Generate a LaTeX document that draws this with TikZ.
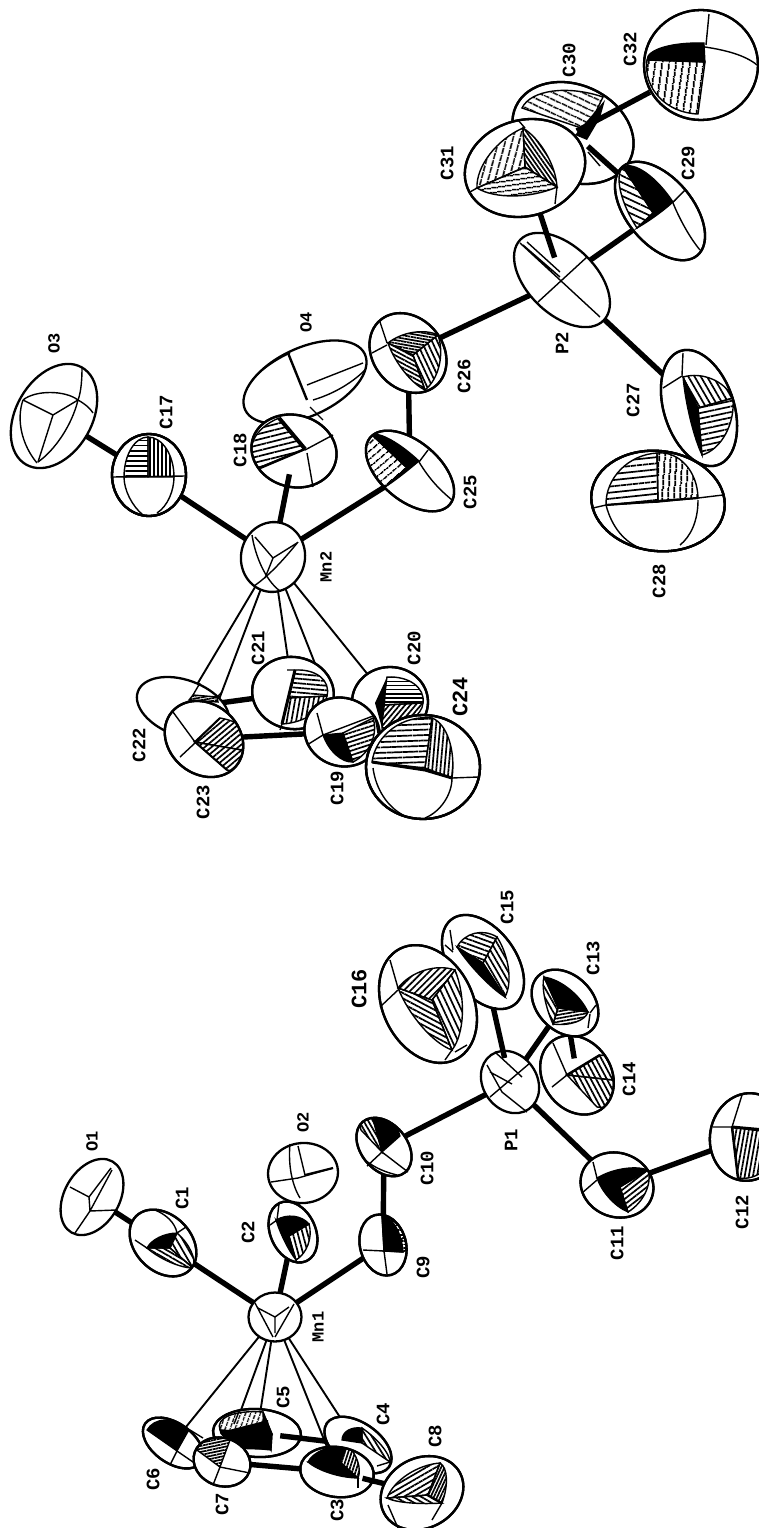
\documentclass[tikz,border=0pt]{standalone}
\usepackage{fontspec}
\newfontfamily\lfont{Liberation Mono}
\usetikzlibrary{calc,patterns.meta}
\tikzset{
 atm/.style={draw=black,fill=white,line width=2.3pt},
 ln/.style={draw=black,line width=1.4pt},
 bond/.style={draw=black,line width=5.4pt},
 mc/.style={draw=black,line width=1.9pt},
 hh/.style args={#1/#2}{pattern={Lines[angle=#1,distance=#2*1.35pt,line width=1.7pt]},draw=black,line width=1.4pt},
 blk/.style={fill=black,draw=black,line width=1.2pt},
 nof/.style={},
 lab/.style={rotate=90,inner sep=0pt,font=\lfont\bfseries\fontsize{19}{19}\selectfont},
 labs/.style={rotate=90,inner sep=0pt,font=\lfont\bfseries\fontsize{17}{17}\selectfont},
 labb/.style={rotate=90,inner sep=0pt,font=\lfont\bfseries\fontsize{22}{22}\selectfont},
}
\newcommand\Atom[4]{\def\cA{#1}\def\cB{#2}\def\cC{#3}\def\cD{#4}\draw[atm] (#1) ellipse [x radius=#2pt,y radius=#3pt,rotate=#4];}
\newcommand\Fac[4]{\path[#4] (#1) -- (#2) .. controls ($(#2)+0.55*(#3)-0.55*(#1)$) and ($(#3)+0.55*(#2)-0.55*(#1)$) .. (#3) -- cycle;}
\newcommand\Oct[7]{\begin{scope}\clip (\cA) ellipse [x radius=\cB pt,y radius=\cC pt,rotate=\cD];
\coordinate (pp) at (#1);\coordinate (aa) at (#2);\coordinate (bb) at (#3);\coordinate (cc) at (#4);\Fac{pp}{aa}{bb}{#5}\Fac{pp}{bb}{cc}{#6}\Fac{pp}{cc}{aa}{#7}\end{scope}
\draw[line width=2.3pt] (\cA) ellipse [x radius=\cB pt,y radius=\cC pt,rotate=\cD];}
\begin{document}
\begin{tikzpicture}[x=1pt,y=-1pt]
\useasboundingbox (0,0) rectangle (759,1528);
\fill[white] (0,0) rectangle (759,1528);
\clip (0,0) rectangle (759,1528);
% atom centres
\foreach \n/\x/\y in {O1/92/1197,C1/163/1243,O2/303/1173,C2/293/1232,Mn1/275/1317,C9/383/1245,C10/384/1147,P1/510/1082,C11/617/1185,C12/748/1137,C13/565/1003,C14/577/1075,C15/483/962,C16/428/1004,C3/337/1472,C4/358/1445,C5/257/1433,C6/173/1443,C7/222/1462,C8/422/1493,O3/54/416,C17/149/475,O4/305/382,C18/294/451,Mn2/273/557,C19/342/732,C20/390/702,C21/293/693,C22/183/708,C23/204/739,C24/423/767,C25/410/471,C26/408/353,P2/562/280,C27/699/408,C28/658/501,C29/660/211,C30/573/133,C31/525/168,C32/701/65}
 {\coordinate (\n) at (\x,\y);}
% ---------- left molecule: bonds under atoms
\draw[bond] (O1) -- (C1);
\draw[bond] (C1) -- (Mn1);
\draw[bond] (Mn1) -- (C2);
\draw[bond] (C2) -- (O2);
\draw[bond] (Mn1) -- (C9);
\draw[bond] (C9) -- (C10);
\draw[bond] (C10) -- (P1);
\draw[bond] (P1) -- (C11);
\draw[bond] (C11) -- (C12);
\draw[bond] (P1) -- (C13);
\draw[mc] (Mn1) -- (C6);
\draw[mc] (Mn1) -- (C7);
\draw[mc] (Mn1) -- (C5);
\draw[mc] (Mn1) -- (C3);
\draw[mc] (Mn1) -- (C4);
% O1
\Atom{O1}{41}{27.5}{60}
\draw[ln] (89,1197) -- (70,1187) (89,1197) -- (111,1168) (89,1197) -- (90,1211) (90,1211) -- (75,1233) (90,1211) -- (116,1210) (90,1211) -- (112,1170);
% C1
\Atom{C1}{38}{28}{-45}
\Oct{170,1248}{147,1248}{177,1233}{193,1268}{blk}{hh=-60/4}{hh=-30/3}
\draw[ln] (155,1210) .. controls (165,1214) and (175,1222) .. (177,1233) (177,1233) -- (186,1227) (147,1248) -- (135,1240);
% O2
\Atom{O2}{35}{30}{5}
\draw[ln] (290,1144) .. controls (288,1165) and (292,1185) .. (300,1198) (298,1146) -- (305,1175) (271,1182) -- (298,1178) (298,1178) -- (333,1168);
\draw[line width=2.2pt] (305,1175) -- (333,1168);
% C2
\Atom{C2}{32}{22.5}{-65}
\Oct{289,1236}{276,1220}{309,1224}{296,1260}{blk}{hh=-75/3.5}{blk}
\draw[ln] (279,1204) -- (277,1220) (270,1225) -- (277,1220);
% C9
\Atom{C9}{31}{23}{-75}
\Oct{384,1251}{382,1216}{406,1236}{403,1252}{hh=0/3.5}{hh=0/2.5}{blk}
\draw[ln] (363,1250) -- (384,1251) -- (387,1274);
% C10
\Atom{C10}{33}{23}{-50}
\Oct{382,1152}{361,1130}{373,1119}{400,1136}{hh=-60/3}{blk}{nof}
\draw[ln] (382,1152) -- (367,1166) (382,1152) -- (408,1172) (365,1160) .. controls (375,1168) and (385,1172) .. (397,1175);
% C15 then C16
\Atom{C15}{53}{33}{-54}
\Oct{483,963}{457,947}{497,937}{505,997}{hh=-20/3.5}{hh=-60/3.5}{blk}
\draw[ln] (450,930) -- (453,950) (445,945) -- (453,952);
\Atom{C16}{62}{45}{-63}
\Oct{432,1000}{398,988}{455,970}{452,1050}{hh=45/3.5}{hh=-65/4}{hh=-28/3.5}
\draw[ln] (390,960) -- (398,988) (380,1007) -- (398,990) (452,1050) -- (445,1060) (455,1052) -- (467,1045);
% P1 and C14, C13
\Atom{C14}{42}{34}{-55}
\Oct{567,1075}{600,1055}{613,1080}{597,1107}{hh=-62/3.5}{hh=-62/3.5}{nof}
\draw[line width=2.5pt] (567,1075) -- (600,1055);
\draw[ln] (553,1043) -- (567,1075) (552,1087) -- (567,1075);
\draw[bond] ($(C14)!0.23!(C13)$) -- (C13);
\Atom{C13}{38}{28}{-45}
\Oct{558,1008}{544,977}{588,1012}{553,1024}{blk}{hh=10/2.5}{hh=-60/3.5}
\draw[ln] (590,1013) -- (596,1005) (590,1014) -- (588,1028);
\Atom{P1}{33}{27}{-55}
\draw[ln] (530,1063) -- (490,1097) (487,1065) -- (502,1092) -- (527,1112) (495,1052) -- (522,1077) (490,1072) -- (512,1084);
\draw[bond] ($(P1)!0.2!(C15)$) -- ($(P1)!0.62!(C15)$);
% C11, C12
\Atom{C11}{37}{32}{-20}
\Oct{620,1187}{597,1178}{648,1170}{628,1212}{blk}{hh=38/3.2}{blk}
\draw[ln] (593,1162) -- (597,1178) (582,1193) -- (597,1180);
\Atom{C12}{44}{38}{80}
\Oct{732,1127}{775,1133}{738,1178}{732,1127}{hh=80/3}{nof}{nof}
\draw[line width=3pt] (732,1127) -- (765,1130);
\draw[ln] (713,1127) -- (732,1127) -- (742,1095);
\draw[line width=2.5pt] (732,1127) -- (738,1178);
\Atom{Mn1}{26.5}{24.5}{0}
\draw[ln] (255,1303) -- (273,1337) (294,1304) -- (275,1337) (275,1317) -- (258,1308) (275,1317) -- (289,1307) (275,1317) -- (275,1333);
% Cp left
\Atom{C6}{34}{20}{-35}
\Oct{177,1451}{147,1430}{190,1428}{177,1451}{blk}{nof}{nof}
\draw[ln] (177,1451) -- (170,1465) (177,1451) -- (193,1462) (190,1430) -- (203,1438);
\Atom{C5}{44}{24}{-3}
\Oct{272,1434}{220,1430}{263,1412}{271,1450}{hh=70/3.6}{blk}{blk}
\draw[ln] (240,1409) -- (234,1424);
\fill[black] (225,1431) -- (268,1420) -- (271,1450) -- (240,1449) -- cycle;
\draw[bond] ($(C5)!0.23!(C4)$) -- (C4);
\Atom{C4}{38}{22}{-35}
\Oct{362,1443}{342,1440}{362,1428}{390,1462}{blk}{hh=-58/3.5}{nof}
\draw[ln] (390,1462) -- (377,1466);
\draw[bond] (C7) -- (C3);
\Atom{C7}{29}{24}{-20}
\Oct{220,1467}{197,1450}{230,1440}{220,1467}{hh=12/2.2}{nof}{nof}
\draw[ln] (220,1467) -- (213,1485) (220,1467) -- (250,1473);
\Atom{C3}{37}{25}{-8}
\Oct{340,1462}{308,1462}{347,1445}{358,1478}{blk}{hh=72/2.4}{blk}
\draw[ln] (358,1478) -- (358,1488);
\draw[bond] ($(C3)!0.3!(C8)$) -- ($(C3)!0.63!(C8)$);
\Atom{C8}{43}{35}{28}
\Oct{428,1495}{440,1463}{387,1498}{442,1503}{hh=30/3.5}{hh=-30/3.2}{hh=65/2.2}
\draw[ln] (388,1505) -- (398,1528) (442,1503) -- (432,1520);
% ---------- right molecule
\draw[bond] (O3) -- (C17);
\draw[bond] (C17) -- (Mn2);
\draw[bond] (Mn2) -- (C25);
\draw[bond] (C25) -- (C26);
\draw[bond] (C26) -- (P2);
\draw[bond] (P2) -- (C27);
\draw[mc] (Mn2) -- (C22);
\draw[mc] (Mn2) -- (C23);
\draw[mc] (Mn2) -- (C21);
\draw[mc] (Mn2) -- (C19);
\draw[mc] (Mn2) -- (C20);
\Atom{O3}{56}{38}{60}
\draw[ln] (53,415) -- (23,400) (53,415) -- (78,400) (53,415) -- (38,462);
\draw[ln] (23,400) .. controls (35,390) and (65,390) .. (78,400) .. controls (85,404) and (90,408) .. (93,413);
\draw[ln] (82,368) .. controls (82,385) and (80,395) .. (78,400) .. controls (72,425) and (55,450) .. (38,462);
\draw[ln] (23,400) .. controls (16,420) and (22,445) .. (37,463);
\Atom{C17}{41}{37}{90}
\Oct{148,477}{148,437}{124,477}{148,477}{hh=0/3.8}{nof}{nof}
\Oct{148,477}{148,437}{174,477}{148,477}{hh=90/3}{nof}{nof}
\draw[ln] (112,477) -- (186,476);
\draw[ln] (124,477) .. controls (124,490) and (132,506) .. (143,515) (174,477) .. controls (174,490) and (168,506) .. (157,513);
\Atom{O4}{66}{34}{25}
\draw[line width=2.4pt] (288,353) -- (307,400);
\draw[ln] (307,385) -- (363,363) (313,400) .. controls (330,395) and (350,385) .. (365,370) (310,407) -- (323,420);
\draw[ln] (290,353) .. controls (273,361) and (258,372) .. (251,382);
\Atom{C18}{43}{36}{-15}
\Oct{305,449}{279,418}{258,468}{305,449}{hh=14/4}{nof}{nof}
\draw[line width=4pt] (279,418) -- (305,449);
\draw[line width=2.5pt] (305,449) -- (260,468);
\draw[ln] (305,450) -- (333,435) (307,453) -- (313,487);
\draw[bond] (Mn2) -- ($(Mn2)!0.78!(C18)$);
\Atom{Mn2}{35}{32}{80}
\draw[ln] (273,558) -- (255,537) (273,558) -- (297,543) (273,558) -- (265,578);
\draw[ln] (252,535) .. controls (255,555) and (265,580) .. (280,591) (298,542) .. controls (285,558) and (270,575) .. (254,586);
% Cp right
\draw[bond] (C22) -- (C21);
\Atom{C22}{48}{28}{-20}
\path[hh=10/2] (193,695) -- (217,697) -- (218,702) -- (189,700) -- cycle;
\draw[ln] (200,683) -- (193,695) (222,692) -- (217,697);
\Atom{C23}{42}{35}{-40}
\Oct{195,742}{220,718}{242,750}{227,770}{hh=40/3.2}{hh=40/3.2}{nof}
\draw[ln] (173,712) -- (195,742) (195,743) -- (180,757);
\draw[line width=2pt] (195,742) -- (220,718) (195,742) -- (227,770);
\Atom{C21}{41}{36}{-10}
\Oct{288,698}{295,670}{327,696}{282,724}{hh=-5/3.4}{hh=80/3.4}{nof}
\draw[line width=3pt] (295,670) -- (282,724);
\draw[ln] (287,670) -- (295,670) (282,724) -- (280,730);
\draw[bond] ($(C23)!0.27!(C19)$) -- (C19);
\Atom{C20}{38}{35}{0}
\Oct{383,705}{387,677}{423,703}{382,728}{hh=0/3}{hh=50/3}{nof}
\fill[black] (387,677) -- (375,703) -- (382,728) -- (385,705) -- cycle;
\Atom{C19}{38}{34}{-20}
\Oct{343,733}{323,735}{373,718}{353,762}{nof}{hh=18/3.2}{blk}
\draw[ln] (317,713) -- (323,735) (307,745) -- (323,735) (323,735) -- (373,716) (375,716) -- (378,733);
\Atom{C24}{57}{52}{0}
\Oct{425,768}{432,718}{372,762}{425,768}{hh=2/4}{nof}{nof}
\Oct{425,768}{432,718}{452,778}{425,768}{hh=85/3}{nof}{nof}
\draw[line width=3pt] (372,762) -- (425,770) -- (452,778);
\draw[ln] (452,778) -- (478,777) (452,778) .. controls (452,795) and (440,812) .. (425,818) (373,768) .. controls (376,790) and (388,807) .. (403,815);
% C25, C26
\Atom{C25}{52}{29.5}{-40}
\Oct{407,468}{372,435}{419,461}{385,487}{blk}{blk}{hh=40/5}
\draw[ln] (419,462) -- (428,450) (419,462) .. controls (430,480) and (440,490) .. (452,500);
\Atom{C26}{43}{35}{-50}
\Oct{413,355}{388,343}{438,335}{425,390}{hh=-10/2.2}{hh=-65/3.5}{hh=-28/2.8}
\draw[ln] (380,322) -- (387,343) (372,353) -- (387,345);
% C30, C29, P2, C31, C32
\Atom{C30}{63}{48}{-25}
\Oct{587,130}{522,108}{603,97}{587,130}{hh=-25/5}{nof}{nof}
\path[fill=black] (575,135) -- (605,100) -- (600,118) -- (587,140) -- cycle;
\draw[ln] (588,152) -- (600,166);
\draw[bond] ($(C30)!0.17!(C29)$) -- (C29);
\draw[bond] (P2) -- (C29);
\Atom{C29}{58}{33}{-50}
\Oct{653,213}{623,167}{673,202}{637,228}{blk}{blk}{hh=-25/4.5}
\draw[ln] (673,202) -- (685,190) (673,203) .. controls (680,220) and (690,238) .. (700,250);
\Atom{P2}{58}{34}{-44}
\draw[ln] (520,243) -- (600,317) (523,245) -- (560,277) (538,302) -- (587,257) (527,242) -- (560,272);
\draw[bond] ($(P2)!0.2!(C31)$) -- ($(P2)!0.6!(C31)$);
\Atom{C31}{61}{48}{15}
\Oct{525,167}{523,128}{477,188}{557,187}{hh=75/5}{hh=8/3.6}{hh=-55/2.6}
\draw[ln] (518,120) -- (525,128) (470,192) -- (477,188) (557,187) -- (555,204);
\draw[bond] ($(C30)!0.03!(C32)$) -- ($(C30)!0.6!(C32)$);
\Atom{C32}{57}{55}{0}
\Oct{705,62}{704,43}{647,60}{698,114}{blk}{hh=82/5}{nof}
\draw[ln] (706,45) -- (709,14) (705,47) .. controls (725,50) and (745,55) .. (757,65);
% C27, C28
\Atom{C27}{60}{35}{-72}
\Oct{698,408}{683,377}{733,398}{702,455}{hh=-60/4}{hh=12/4}{blk}
\draw[ln] (683,353) -- (682,375) (663,388) -- (682,376);
\Atom{C28}{67}{50}{-7}
\Oct{658,502}{657,453}{606,505}{658,502}{hh=6/4.5}{nof}{nof}
\Oct{658,502}{657,453}{698,498}{658,502}{hh=86/4.2}{nof}{nof}
\draw[line width=2.2pt] (606,505) -- (658,501) -- (698,498);
\draw[ln] (593,508) -- (606,505) (698,498) -- (723,495);
\draw[ln] (606,505) .. controls (612,528) and (625,542) .. (640,548) (698,500) .. controls (698,522) and (690,537) .. (680,545);
% labels
\node[labs] (lO1) at (92,1141) {O1};
\node[lab] (lC1) at (182,1198) {C1};
\node[labs] (lO2) at (303,1122) {O2};
\node[lab] (lC2) at (248,1232) {C2};
\node[labs] (lMn1) at (318,1327) {Mn1};
\node[lab] (lC5) at (283,1397) {C5};
\node[lab] (lC4) at (383,1414) {C4};
\node[lab] (lC6) at (153,1479) {C6};
\node[lab] (lC7) at (222,1504) {C7};
\node[lab] (lC3) at (337,1510) {C3};
\node[lab] (lC8) at (435,1436) {C8};
\node[lab] (lC9) at (423,1267) {C9};
\node[lab] (lC10) at (427,1168) {C10};
\node[lab] (lP1) at (511,1140) {P1};
\node[labb] (lC16) at (359,989) {C16};
\node[lab] (lC15) at (507,907) {C15};
\node[lab] (lC13) at (593,958) {C13};
\node[lab] (lC14) at (629,1079) {C14};
\node[lab] (lC11) at (617,1243) {C11};
\node[lab] (lC12) at (742,1212) {C12};
\node[lab] (lC17) at (166,412) {C17};
\node[labs] (lO3) at (54,343) {O3};
\node[labs] (lO4) at (306,322) {O4};
\node[lab] (lC18) at (240,450) {C18};
\node[lab] (lC26) at (464,376) {C26};
\node[lab] (lC25) at (470,492) {C25};
\node[labs] (lMn2) at (326,567) {Mn2};
\node[lab] (lC21) at (258,648) {C21};
\node[lab] (lC20) at (414,648) {C20};
\node[labb] (lC24) at (460,697) {C24};
\node[lab] (lC22) at (139,745) {C22};
\node[lab] (lC23) at (203,802) {C23};
\node[lab] (lC19) at (337,788) {C19};
\node[lab] (lC30) at (569,60) {C30};
\node[lab] (lC32) at (630,49) {C32};
\node[lab] (lC31) at (447,163) {C31};
\node[lab] (lC29) at (688,163) {C29};
\node[lab] (lP2) at (562,343) {P2};
\node[lab] (lC27) at (633,400) {C27};
\node[lab] (lC28) at (659,581) {C28};
\end{tikzpicture}
\end{document}
